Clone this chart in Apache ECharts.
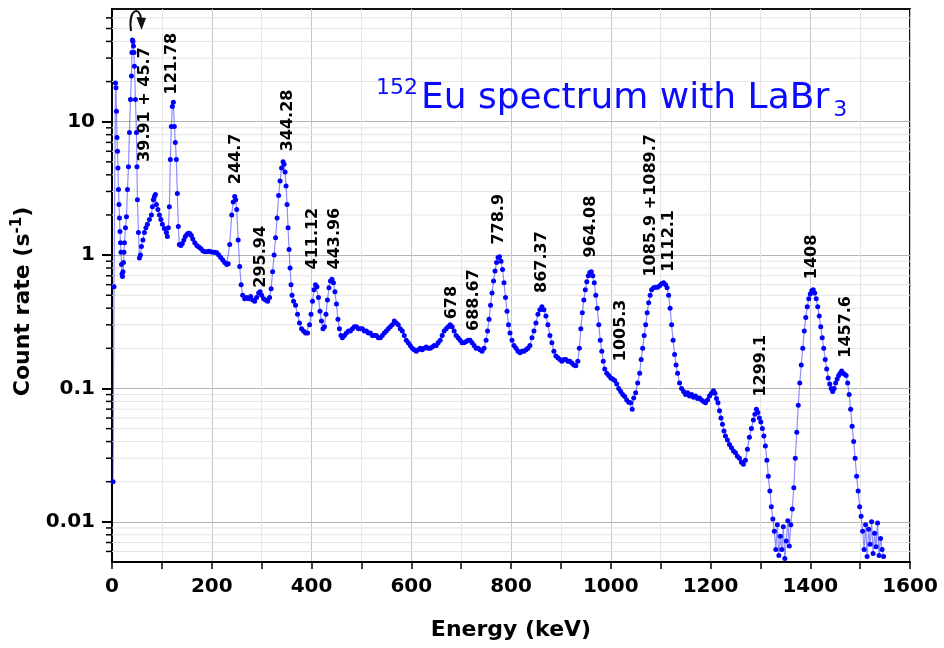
<!DOCTYPE html>
<html><head><meta charset="utf-8">
<script src="https://cdn.jsdelivr.net/npm/echarts@6/dist/echarts.min.js"></script>
<style>html,body{margin:0;padding:0;background:#fff}#c{width:944px;height:648px}</style>
</head><body><div id="c"></div>
<script>
// Energy (keV) of each channel
const energies = [
  2, 4, 7, 8, 9, 10, 11, 12, 13, 14,
  15, 16, 17, 18, 19, 20, 21, 22, 23, 24,
  25, 27, 29, 31, 33, 35, 37, 39, 40, 41,
  42, 43, 44, 45, 47, 49, 50, 51, 53, 55,
  57, 59, 62, 65, 68, 71, 75, 79, 81, 83,
  85, 87, 89, 92, 95, 98, 101, 105, 109, 111,
  113, 115, 117, 119, 121, 123, 125, 127, 129, 131,
  133, 135, 138, 141, 144, 147, 150, 153, 156, 159,
  162, 166, 170, 174, 178, 182, 186, 190, 194, 198,
  202, 206, 210, 214, 218, 222, 226, 230, 233, 236,
  240, 243, 246, 248, 250, 253, 256, 259, 262, 266,
  270, 274, 278, 282, 286, 290, 294, 297, 300, 304,
  308, 312, 316, 319, 322, 325, 328, 331, 334, 337,
  340, 343, 345, 347, 349, 351, 353, 355, 357, 359,
  361, 364, 368, 372, 376, 380, 384, 388, 392, 396,
  399, 402, 405, 408, 411, 414, 417, 420, 423, 426,
  429, 432, 435, 438, 441, 444, 447, 450, 453, 456,
  459, 462, 466, 470, 474, 478, 482, 486, 490, 494,
  498, 502, 506, 510, 514, 518, 522, 526, 530, 534,
  538, 542, 546, 550, 554, 558, 562, 566, 570, 574,
  578, 582, 586, 590, 594, 598, 602, 606, 610, 614,
  618, 622, 626, 630, 634, 638, 642, 646, 650, 654,
  658, 662, 666, 670, 674, 678, 682, 686, 690, 694,
  698, 702, 706, 710, 714, 718, 722, 726, 730, 734,
  738, 742, 746, 750, 753, 756, 759, 762, 765, 768,
  771, 774, 777, 780, 783, 786, 789, 792, 795, 798,
  802, 806, 810, 814, 818, 822, 826, 830, 834, 838,
  842, 846, 850, 854, 858, 862, 866, 870, 874, 878,
  882, 886, 890, 894, 898, 902, 906, 910, 914, 918,
  922, 926, 930, 934, 937, 940, 943, 946, 949, 952,
  955, 958, 961, 964, 967, 970, 973, 976, 979, 982,
  985, 988, 992, 996, 1000, 1004, 1008, 1012, 1016, 1020,
  1024, 1028, 1032, 1036, 1040, 1043, 1046, 1050, 1054, 1058,
  1061, 1064, 1067, 1070, 1073, 1076, 1079, 1082, 1086, 1090,
  1094, 1098, 1102, 1106, 1110, 1113, 1116, 1119, 1122, 1125,
  1128, 1131, 1134, 1138, 1142, 1146, 1150, 1154, 1158, 1162,
  1166, 1170, 1174, 1178, 1182, 1186, 1190, 1194, 1198, 1202,
  1206, 1209, 1212, 1215, 1218, 1221, 1224, 1227, 1230, 1234,
  1238, 1242, 1246, 1250, 1254, 1258, 1262, 1266, 1270, 1274,
  1278, 1282, 1286, 1289, 1292, 1295, 1298, 1301, 1304, 1307,
  1310, 1313, 1316, 1319, 1322, 1325, 1328, 1331, 1334, 1337,
  1340, 1343, 1346, 1349, 1352, 1355, 1358, 1361, 1364, 1367,
  1370, 1373, 1376, 1379, 1382, 1385, 1388, 1391, 1394, 1397,
  1400, 1403, 1406, 1409, 1412, 1415, 1418, 1421, 1424, 1427,
  1430, 1433, 1436, 1439, 1442, 1445, 1448, 1451, 1454, 1457,
  1460, 1463, 1466, 1469, 1472, 1475, 1478, 1481, 1484, 1487,
  1490, 1493, 1496, 1499, 1502, 1505, 1508, 1511, 1514, 1517,
  1520, 1523, 1526, 1529, 1532, 1535, 1538, 1541, 1544, 1547
];
// Count rate (1/s) for each energy above
const rates = [
  0.02, 0.58, 19.5, 18, 12, 7.6, 6.0, 4.5, 3.1, 2.4,
  1.9, 1.5, 1.24, 1.05, 0.85, 0.72, 0.69, 0.75, 0.88, 1.05,
  1.24, 1.6, 1.94, 3.1, 4.6, 8.3, 14.7, 22, 33, 41,
  40, 37, 33, 26, 14.7, 8.3, 4.6, 2.6, 1.48, 0.95,
  1.0, 1.16, 1.3, 1.48, 1.6, 1.7, 1.85, 2.0, 2.3, 2.6,
  2.75, 2.85, 2.4, 2.2, 2.0, 1.85, 1.7, 1.58, 1.48, 1.38,
  1.6, 2.3, 5.2, 9.2, 13, 14, 9.2, 7, 5.2, 2.9,
  1.64, 1.2, 1.18, 1.22, 1.3, 1.38, 1.43, 1.46, 1.45, 1.4,
  1.32, 1.24, 1.18, 1.15, 1.12, 1.08, 1.06, 1.06, 1.07, 1.06,
  1.05, 1.05, 1.04, 1.0, 0.96, 0.92, 0.88, 0.85, 0.86, 1.2,
  2.0, 2.5, 2.75, 2.6, 2.2, 1.3, 0.82, 0.6, 0.5, 0.47,
  0.48, 0.47, 0.49, 0.46, 0.45, 0.48, 0.52, 0.53, 0.5, 0.47,
  0.46, 0.45, 0.48, 0.56, 0.75, 1.0, 1.35, 1.9, 2.8, 3.6,
  4.5, 5.0, 4.8, 4.2, 3.3, 2.4, 1.6, 1.1, 0.8, 0.6,
  0.5, 0.45, 0.42, 0.36, 0.31, 0.28, 0.27, 0.26, 0.26, 0.3,
  0.36, 0.45, 0.55, 0.6, 0.58, 0.48, 0.38, 0.32, 0.28, 0.29,
  0.36, 0.46, 0.57, 0.64, 0.66, 0.62, 0.53, 0.43, 0.33, 0.28,
  0.25, 0.24, 0.25, 0.26, 0.27, 0.27, 0.28, 0.29, 0.29, 0.28,
  0.28, 0.28, 0.27, 0.27, 0.26, 0.26, 0.25, 0.25, 0.25, 0.24,
  0.24, 0.25, 0.26, 0.27, 0.28, 0.29, 0.3, 0.32, 0.31, 0.3,
  0.28, 0.27, 0.25, 0.23, 0.22, 0.21, 0.2, 0.195, 0.19, 0.195,
  0.2, 0.195, 0.2, 0.205, 0.2, 0.2, 0.205, 0.21, 0.21, 0.22,
  0.23, 0.25, 0.27, 0.28, 0.29, 0.3, 0.29, 0.27, 0.25, 0.24,
  0.23, 0.22, 0.22, 0.225, 0.23, 0.23, 0.22, 0.21, 0.2, 0.2,
  0.195, 0.19, 0.2, 0.23, 0.27, 0.33, 0.42, 0.52, 0.64, 0.76,
  0.88, 0.96, 0.97, 0.9, 0.78, 0.62, 0.48, 0.38, 0.3, 0.26,
  0.23, 0.21, 0.2, 0.19, 0.185, 0.19, 0.19, 0.195, 0.2, 0.21,
  0.24, 0.27, 0.31, 0.36, 0.39, 0.41, 0.39, 0.35, 0.3, 0.25,
  0.22, 0.19, 0.175, 0.17, 0.165, 0.16, 0.165, 0.165, 0.16, 0.16,
  0.155, 0.15, 0.148, 0.16, 0.2, 0.28, 0.37, 0.46, 0.55, 0.63,
  0.7, 0.74, 0.75, 0.7, 0.62, 0.5, 0.4, 0.3, 0.23, 0.19,
  0.16, 0.14, 0.13, 0.125, 0.12, 0.118, 0.115, 0.108, 0.1, 0.095,
  0.09, 0.087, 0.082, 0.079, 0.078, 0.07, 0.085, 0.093, 0.11, 0.13,
  0.165, 0.2, 0.25, 0.3, 0.37, 0.44, 0.5, 0.55, 0.57, 0.575,
  0.575, 0.59, 0.61, 0.62, 0.6, 0.57, 0.5, 0.4, 0.3, 0.23,
  0.18, 0.15, 0.13, 0.11, 0.1, 0.095, 0.09, 0.093, 0.088, 0.09,
  0.086, 0.088, 0.084, 0.085, 0.082, 0.08, 0.078, 0.082, 0.088, 0.092,
  0.096, 0.092, 0.084, 0.078, 0.068, 0.06, 0.054, 0.048, 0.044, 0.041,
  0.038, 0.036, 0.034, 0.033, 0.031, 0.03, 0.028, 0.027, 0.029, 0.035,
  0.043, 0.05, 0.058, 0.064, 0.07, 0.066, 0.06, 0.056, 0.05, 0.044,
  0.037, 0.029, 0.022, 0.017, 0.013, 0.0105, 0.0085, 0.0062, 0.0095, 0.0056,
  0.0078, 0.0062, 0.0092, 0.0053, 0.0072, 0.0102, 0.0066, 0.0095, 0.0125, 0.018,
  0.03, 0.047, 0.075, 0.11, 0.15, 0.2, 0.27, 0.34, 0.41, 0.47,
  0.51, 0.54, 0.55, 0.52, 0.47, 0.41, 0.35, 0.29, 0.24, 0.2,
  0.165, 0.14, 0.12, 0.108, 0.1, 0.095, 0.1, 0.11, 0.118, 0.125,
  0.13, 0.135, 0.13, 0.128, 0.125, 0.11, 0.09, 0.07, 0.052, 0.04,
  0.03, 0.022, 0.017, 0.013, 0.011, 0.0085, 0.0062, 0.0095, 0.0055, 0.0088,
  0.0068, 0.01, 0.0058, 0.0082, 0.0065, 0.0098, 0.0056, 0.0075, 0.0062, 0.0055
];
// Peak annotations: text, energy where text is centred, count rate at text start
const peakLabels = ['39.91 + 45.7', '121.78', '244.7', '295.94', '344.28', '411.12', '443.96', '678', '688.67',
  '778.9', '867.37', '964.08', '1005.3', '1085.9 +1089.7', '1112.1', '1299.1', '1408', '1457.6'];
const peakLabelEnergy = [65, 119, 248, 298, 352, 402, 446, 681, 725, 775, 862, 960, 1020, 1080, 1117, 1301, 1403, 1472];
const peakLabelRate = [5.0, 16, 3.4, 0.57, 6.0, 0.78, 0.78, 0.33, 0.27, 1.2, 0.52, 0.96, 0.16, 0.69, 0.75, 0.087, 0.66, 0.17];
// Axis tick values
const yMajorTicks = [0.01, 0.1, 1, 10];
const yMinorTicks = [0.006, 0.007, 0.008, 0.009,
  0.02, 0.03, 0.04, 0.05, 0.06, 0.07, 0.08, 0.09,
  0.2, 0.3, 0.4, 0.5, 0.6, 0.7, 0.8, 0.9,
  2, 3, 4, 5, 6, 7, 8, 9, 20, 30, 40, 50, 60];

const FONT = 'DejaVu Sans';
const chart = echarts.init(document.getElementById('c'), null, { renderer: 'canvas' });
const spectrum = energies.map((e, i) => [e, rates[i]]);

chart.setOption({
  animation: false,
  backgroundColor: '#fff',
  title: {
    text: '{sup|152}{main|Eu spectrum with LaBr}{sub|3}',
    left: 376, top: 77, padding: 0,
    textStyle: {
      fontWeight: 'normal',
      rich: {
        sup: { fontFamily: FONT, fontSize: 22, fontWeight: 'normal', color: '#0a0aff', verticalAlign: 'top', lineHeight: 30, padding: [0, 3, 0, 0] },
        main: { fontFamily: FONT, fontSize: 36, fontWeight: 'normal', color: '#0a0aff', lineHeight: 44 },
        sub: { fontFamily: FONT, fontSize: 22, fontWeight: 'normal', color: '#0a0aff', verticalAlign: 'bottom', lineHeight: 11, padding: [0, 0, 0, 4] }
      }
    }
  },
  grid: { left: 112, right: 34, top: 9, bottom: 86, show: true, borderColor: '#111', borderWidth: 2, backgroundColor: 'transparent' },
  xAxis: {
    type: 'value', min: 0, max: 1600, interval: 200,
    name: 'Energy (keV)', nameLocation: 'middle', nameGap: 57,
    nameTextStyle: { fontFamily: FONT, fontSize: 22, fontWeight: 'bold', color: '#000' },
    axisLine: { lineStyle: { color: '#000', width: 2 } },
    axisTick: { show: true, length: 7, lineStyle: { color: '#000', width: 1.5 } },
    minorTick: { show: true, splitNumber: 2, length: 7, lineStyle: { color: '#000', width: 1.5 } },
    axisLabel: { fontFamily: FONT, fontSize: 20, fontWeight: 'bold', color: '#000', margin: 15, formatter: v => String(v) },
    splitLine: { show: true, lineStyle: { color: '#c8c8c8', width: 1 } },
    minorSplitLine: { show: true, lineStyle: { color: '#e6e6e6', width: 1 } }
  },
  yAxis: {
    type: 'log', logBase: 10, min: 0.005, max: 70,
    name: '{a|Count rate (s}{b|-1}{a|)}', nameLocation: 'middle', nameGap: 62,
    nameTextStyle: {
      padding: [0, 32, 0, 0],
      rich: {
        a: { fontFamily: FONT, fontSize: 22, fontWeight: 'bold', color: '#000', lineHeight: 28 },
        b: { fontFamily: FONT, fontSize: 15, fontWeight: 'bold', color: '#000', verticalAlign: 'top', lineHeight: 18 }
      }
    },
    axisLine: { show: true, lineStyle: { color: '#000', width: 2 } },
    axisTick: { show: true, length: 10, customValues: yMajorTicks, lineStyle: { color: '#000', width: 2 } },
    axisLabel: { customValues: yMajorTicks, fontFamily: FONT, fontSize: 20, fontWeight: 'bold', color: '#000', margin: 17 },
    splitLine: { show: true, lineStyle: { color: '#b4b4b4', width: 1 } },
    minorTick: { show: false },
    minorSplitLine: { show: false }
  },
  graphic: [
    { type: 'bezierCurve', shape: { x1: 131, y1: 31, cpx1: 128, cpy1: 8, cpx2: 140, cpy2: 6, x2: 141, y2: 19 },
      style: { stroke: '#111', lineWidth: 2, fill: null }, z: 10 },
    { type: 'polygon', shape: { points: [[136.5, 17], [146, 18], [141.5, 30]] }, style: { fill: '#111' }, z: 10 }
  ],
  series: [
    {
      type: 'custom', z: 1, silent: true, clip: false,
      data: yMinorTicks.map(v => [0, v]),
      encode: { x: 0, y: 1 },
      renderItem: function (params, api) {
        const cs = params.coordSys;
        const y = api.coord([0, api.value(1)])[1];
        return {
          type: 'group', children: [
            { type: 'line', shape: { x1: cs.x, y1: y, x2: cs.x + cs.width, y2: y }, style: { stroke: '#e4e4e4', lineWidth: 1 } },
            { type: 'line', shape: { x1: cs.x - 6, y1: y, x2: cs.x, y2: y }, style: { stroke: '#000', lineWidth: 1.5 } }
          ]
        };
      }
    },
    {
      type: 'line', z: 3, data: spectrum,
      symbol: 'circle', symbolSize: 5, showSymbol: true,
      itemStyle: { color: '#0000ff' },
      lineStyle: { color: 'rgba(30,30,255,0.5)', width: 1.2 },
      emphasis: { disabled: true }
    },
    {
      type: 'scatter', z: 4, silent: true, symbolSize: 1,
      itemStyle: { color: '#000', opacity: 0 },
      data: peakLabels.map((t, i) => ({ name: t, value: [peakLabelEnergy[i], peakLabelRate[i]] })),
      label: {
        show: true, formatter: '{b}', rotate: 90, position: 'inside', align: 'left', verticalAlign: 'middle',
        fontFamily: FONT, fontSize: 16, fontWeight: 'bold', color: '#000', opacity: 1,
        textBorderWidth: 0, textBorderColor: 'transparent'
      }
    }
  ]
});
</script>
</body></html>
